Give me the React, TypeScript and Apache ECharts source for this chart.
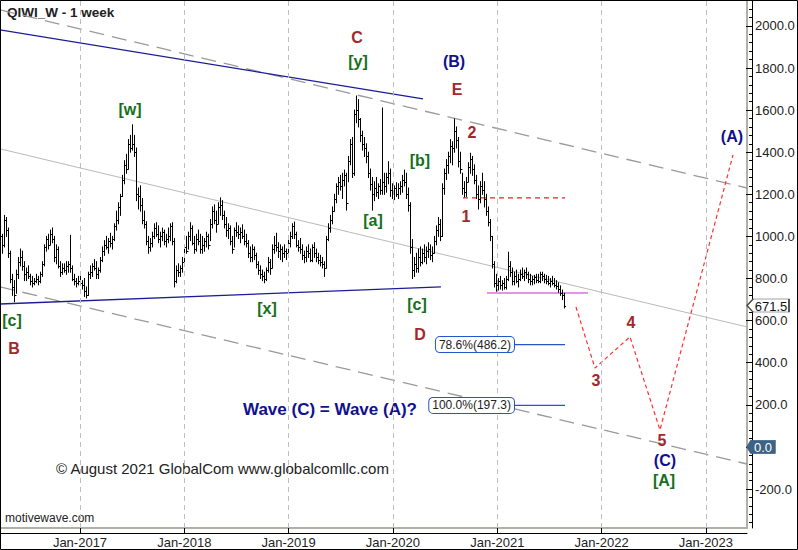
import React, { useEffect, useRef } from "react";
import * as echarts from "echarts";

const DAY = 86400000;
const yr = (v: number) => Date.UTC(2017, 0, 1) + (v - 2017) * 365.25 * DAY;
const FONT = '"Liberation Sans", Arial, Helvetica, sans-serif';

// axis ranges
const X_MIN_YR = 2016.2334;
const X_MAX_YR = 2023.392;
const Y_MIN = -385;
const Y_MAX = 2123;

// tick labels
const YEAR_LABELS = [2017, 2018, 2019, 2020, 2021, 2022, 2023];
const PRICE_LABELS = [-200, 0, 200, 400, 600, 800, 1000, 1200, 1400, 1600, 1800, 2000];

// weekly OHLC bars (open = previous close)
const FIRST_WEEK = Date.UTC(2016, 3, 4);
const FIRST_OPEN = 1000;
const BAR_HIGH = [
  1010, 1100, 1090, 1040, 930, 820, 790, 840, 900, 940, 930, 880, 850, 860, 820, 810, 800, 820, 810, 830,
  880, 960, 1000, 1010, 1030, 1040, 1000, 960, 950, 880, 870, 870, 880, 880, 1005, 860, 820, 800, 810, 810,
  790, 800, 760, 830, 860, 870, 890, 880, 850, 900, 950, 980, 1000, 990, 1015, 1000, 1060, 1120, 1160, 1200,
  1290, 1360, 1390, 1460, 1480, 1530, 1480, 1420, 1230, 1240, 1180, 1120, 1070, 1000, 990, 1020, 1060, 1065, 1050, 1020,
  1040, 1030, 1010, 1040, 1060, 1065, 990, 860, 870, 860, 900, 960, 1000, 1020, 1065, 1050, 1000, 1010, 1030, 1010,
  1000, 990, 1020, 1010, 1080, 1140, 1150, 1120, 1160, 1183, 1170, 1120, 1090, 1060, 1050, 1000, 1040, 1065, 1050, 1040,
  1055, 1030, 1010, 980, 950, 960, 950, 920, 880, 860, 840, 830, 850, 900, 890, 960, 1000, 1015, 970, 960,
  950, 960, 940, 990, 1020, 1060, 1068, 1020, 980, 990, 960, 930, 950, 960, 940, 960, 970, 940, 920, 910,
  900, 880, 1000, 1060, 1100, 1140, 1200, 1250, 1280, 1290, 1300, 1315, 1300, 1380, 1460, 1470, 1600, 1667, 1650, 1560,
  1500, 1470, 1440, 1400, 1320, 1280, 1260, 1280, 1250, 1270, 1610, 1300, 1300, 1355, 1320, 1250, 1240, 1255, 1250, 1260,
  1290, 1315, 1300, 1230, 1160, 985, 900, 920, 940, 950, 940, 960, 950, 970, 960, 950, 1000, 1050, 1090, 1080,
  1250, 1320, 1365, 1400, 1460, 1450, 1558, 1520, 1470, 1400, 1300, 1260, 1280, 1350, 1395, 1380, 1340, 1290, 1240, 1260,
  1300, 1260, 1200, 1140, 1080, 1000, 880, 820, 800, 810, 790, 800, 810, 925, 880, 850, 830, 840, 820, 840,
  850, 840, 850, 830, 820, 810, 815, 820, 820, 830, 830, 820, 815, 810, 800, 810, 800, 790, 780, 765,
  745, 730,
];
const BAR_LOW = [
  920, 950, 1000, 900, 780, 720, 690, 730, 800, 860, 840, 790, 790, 800, 770, 760, 770, 780, 770, 780,
  810, 860, 930, 940, 960, 970, 880, 870, 850, 810, 820, 830, 820, 830, 830, 790, 770, 760, 770, 770,
  750, 715, 708, 720, 800, 810, 840, 800, 800, 830, 880, 910, 940, 920, 950, 940, 980, 1030, 1060, 1100,
  1190, 1250, 1300, 1320, 1400, 1410, 1380, 1170, 1130, 1120, 1060, 1040, 960, 920, 930, 950, 990, 1000, 970, 950,
  980, 960, 950, 970, 980, 960, 760, 780, 810, 810, 830, 870, 920, 940, 980, 960, 920, 930, 960, 920,
  920, 930, 950, 940, 980, 1040, 1060, 1020, 1060, 1100, 1080, 1040, 1000, 990, 960, 920, 950, 1000, 990, 970,
  990, 960, 950, 900, 880, 880, 890, 850, 820, 800, 790, 780, 790, 830, 820, 850, 920, 930, 900, 890,
  880, 900, 890, 910, 950, 990, 990, 950, 930, 920, 890, 875, 880, 900, 880, 880, 900, 880, 870, 860,
  850, 810, 850, 980, 1020, 1060, 1120, 1160, 1200, 1220, 1180, 1240, 1125, 1260, 1340, 1280, 1290, 1540, 1520, 1450,
  1410, 1380, 1350, 1280, 1220, 1125, 1170, 1190, 1180, 1200, 1200, 1200, 1210, 1250, 1190, 1180, 1175, 1190, 1180, 1200,
  1210, 1240, 1180, 1120, 920, 800, 810, 830, 830, 860, 870, 880, 870, 900, 890, 880, 920, 960, 1000, 980,
  1000, 1200, 1270, 1300, 1350, 1340, 1400, 1420, 1330, 1300, 1200, 1188, 1190, 1260, 1300, 1290, 1250, 1180, 1130, 1160,
  1200, 1140, 1100, 1050, 980, 850, 760, 740, 745, 750, 745, 750, 750, 790, 810, 770, 770, 780, 760, 790,
  800, 790, 800, 780, 770, 770, 775, 780, 780, 780, 790, 780, 775, 770, 760, 770, 760, 750, 735, 720,
  700, 660,
];
const BAR_CLOSE = [
  960, 1080, 1030, 920, 800, 760, 720, 820, 880, 900, 860, 820, 830, 810, 790, 780, 790, 800, 790, 820,
  870, 950, 990, 960, 1010, 990, 900, 940, 860, 830, 850, 840, 860, 870, 850, 800, 790, 780, 790, 780,
  770, 740, 720, 820, 830, 860, 850, 820, 840, 890, 930, 960, 950, 980, 970, 990, 1050, 1080, 1140, 1190,
  1270, 1340, 1320, 1440, 1420, 1440, 1400, 1200, 1190, 1150, 1080, 1060, 980, 950, 970, 1000, 1040, 1010, 990, 1000,
  1020, 980, 990, 1000, 1050, 980, 790, 840, 830, 850, 880, 950, 930, 1000, 1040, 970, 940, 990, 980, 940,
  960, 980, 1000, 960, 1060, 1120, 1080, 1060, 1140, 1150, 1100, 1060, 1030, 1040, 980, 940, 1030, 1020, 1010, 1020,
  1000, 980, 970, 920, 900, 940, 910, 870, 840, 820, 810, 800, 840, 880, 850, 940, 960, 950, 930, 940,
  920, 930, 920, 970, 1000, 1050, 1010, 960, 950, 940, 910, 900, 930, 920, 890, 950, 920, 900, 890, 880,
  870, 850, 990, 1040, 1080, 1120, 1180, 1240, 1260, 1240, 1270, 1290, 1160, 1360, 1440, 1300, 1580, 1600, 1560, 1480,
  1440, 1420, 1380, 1300, 1250, 1200, 1230, 1210, 1240, 1220, 1260, 1240, 1280, 1300, 1220, 1210, 1230, 1200, 1230, 1240,
  1270, 1260, 1200, 1150, 950, 840, 870, 850, 900, 880, 920, 900, 930, 940, 910, 920, 980, 1030, 1060, 1000,
  1230, 1300, 1340, 1380, 1430, 1420, 1500, 1460, 1360, 1320, 1230, 1210, 1260, 1330, 1370, 1320, 1270, 1200, 1180, 1240,
  1220, 1180, 1120, 1070, 1000, 870, 780, 770, 790, 770, 780, 760, 800, 860, 830, 790, 810, 790, 800, 820,
  810, 830, 820, 800, 790, 800, 805, 795, 790, 820, 810, 800, 790, 780, 790, 780, 770, 765, 750, 730,
  720, 671.5,
];

// channel and trend lines [decimal year, price]
const TOP_CHANNEL = [[X_MIN_YR, 2076], [X_MAX_YR, 1230]];
const MID_CHANNEL = [[X_MIN_YR, 1416], [X_MAX_YR, 570]];
const LOW_CHANNEL = [[X_MIN_YR, 760], [X_MAX_YR, -81]];
const UPPER_TREND = [[X_MIN_YR, 1981], [2020.287, 1653]];
const LOWER_TREND = [[X_MIN_YR, 679], [2020.459, 760]];
const WAVE1_LEVEL = [[2020.67, 1183], [2021.648, 1183]];
const BASE_LEVEL = [[2020.9, 731], [2021.868, 731]];
const PROJECTION = [[2021.753, 665], [2021.935, 375], [2022.271, 523], [2022.558, 81], [2023.258, 1387]];

// fibonacci targets
const FIB_TEXT = ["78.6%(486.2)", "100.0%(197.3)"];
const FIB_PRICE = [486.2, 197.3];
const FIB_FROM = 2021.159;
const FIB_TO = 2021.648;

// wave labels
const WAVE_TEXT = ["[c]", "B", "[w]", "[x]", "C", "[y]", "[a]", "[b]", "[c]", "D", "(B)", "E", "2", "1", "3", "4", "5", "(C)", "[A]", "(A)"];
const WAVE_YEAR = [2016.348, 2016.368, 2017.479, 2018.792, 2019.655, 2019.664, 2019.808, 2020.258, 2020.23, 2020.258, 2020.584, 2020.613, 2020.757, 2020.699, 2021.945, 2022.28, 2022.577, 2022.606, 2022.597, 2023.248];
const WAVE_PRICE = [603, 470, 1601, 660, 1943, 1829, 1078, 1359, 675, 532, 1829, 1696, 1492, 1097, 314, 589, 29, -62, -157, 1473];
const WAVE_DEGREE = ["g", "r", "g", "g", "r", "g", "g", "g", "g", "r", "b", "r", "r", "r", "r", "r", "r", "b", "g", "b"];

const LAST_CLOSE = 671.5;
const ZERO_LEVEL = 0;

const DEGREE_COLOR: Record<string, string> = { g: "#15701a", r: "#a3282c", b: "#101090" };

function lineSeries(pts: number[][], color: string, width: number, type: any, z = 2) {
  return {
    type: "line",
    data: pts.map((p) => [yr(p[0]), p[1]]),
    symbol: "none",
    silent: true,
    z,
    lineStyle: { color, width, type },
  };
}

export default function App() {
  const ref = useRef<HTMLDivElement>(null);
  useEffect(() => {
    if (!ref.current) return;
    const chart = echarts.init(ref.current, null, { renderer: "svg" });

    const bars = BAR_CLOSE.map((c, i) => [
      FIRST_WEEK + i * 7 * DAY,
      i === 0 ? FIRST_OPEN : BAR_CLOSE[i - 1],
      BAR_HIGH[i],
      BAR_LOW[i],
      c,
    ]);

    const minor: number[] = [];
    for (let v = -360; v <= 2120; v += 40) if (v % 200 !== 0) minor.push(v);

    const yearTicks = YEAR_LABELS.map((y) => Date.UTC(y, 0, 1));

    const option: any = {
      animation: false,
      backgroundColor: "#fff",
      textStyle: { fontFamily: FONT },
      grid: {
        left: 0,
        top: 0,
        right: 51,
        bottom: 22,
        show: true,
        borderColor: "#b0b0a4",
        borderWidth: 2,
        backgroundColor: "transparent",
        containLabel: false,
        outerBoundsMode: "none",
      },
      xAxis: {
        type: "value",
        min: yr(X_MIN_YR),
        max: yr(X_MAX_YR),
        position: "bottom",
        offset: 5,
        axisLine: { show: true, onZero: false, lineStyle: { color: "#000", width: 1 } },
        axisTick: { show: true, inside: true, length: 5, customValues: yearTicks, lineStyle: { color: "#000" } },
        axisLabel: {
          show: true,
          customValues: yearTicks,
          formatter: (v: number) => "Jan-" + new Date(v).getUTCFullYear(),
          color: "#222",
          fontSize: 13,
          fontFamily: FONT,
          margin: 3,
        },
        splitLine: { show: false },
      },
      yAxis: [
        {
          type: "value",
          position: "right",
          min: Y_MIN,
          max: Y_MAX,
          offset: 5,
          axisLine: { show: true, onZero: false, lineStyle: { color: "#000", width: 1 } },
          axisTick: { show: true, inside: true, length: 6, customValues: PRICE_LABELS, lineStyle: { color: "#000" } },
          axisLabel: {
            show: true,
            customValues: PRICE_LABELS,
            formatter: (v: number) => v.toFixed(1),
            color: "#222",
            fontSize: 13,
            fontFamily: FONT,
            margin: 3,
          },
          splitLine: { show: false },
        },
        {
          type: "value",
          position: "right",
          min: Y_MIN,
          max: Y_MAX,
          offset: 5,
          axisLine: { show: false, onZero: false },
          axisTick: { show: true, inside: true, length: 3, customValues: minor, lineStyle: { color: "#000" } },
          axisLabel: { show: false },
          splitLine: { show: false },
        },
      ],
      series: [
        {
          ...lineSeries(MID_CHANNEL, "#b9b9b9", 1, "solid", 1),
          clip: false,
          markLine: {
            silent: true,
            symbol: ["none", "none"],
            label: { show: false },
            lineStyle: { color: "#bdbdbd", width: 1, type: [5, 4] },
            data: yearTicks.map((t) => ({ xAxis: t })),
          },
          markPoint: {
            silent: true,
            symbol: "path://M0,6 L6,0 L42,0 L42,12 L6,12 Z",
            symbolKeepAspect: false,
            data: [
              {
                coord: [yr(X_MAX_YR), LAST_CLOSE],
                symbolSize: [42, 13],
                symbolOffset: [21, 0],
                itemStyle: { color: "#fff", borderColor: "#444", borderWidth: 1 },
                label: { show: true, formatter: LAST_CLOSE.toFixed(1), color: "#111", fontSize: 13, fontFamily: FONT, offset: [3, 1] },
              },
              {
                coord: [yr(X_MAX_YR), ZERO_LEVEL],
                symbolSize: [28, 13],
                symbolOffset: [14, 0],
                itemStyle: { color: "#3d6284", borderColor: "#3d6284", borderWidth: 1 },
                label: { show: true, formatter: ZERO_LEVEL.toFixed(1), color: "#fff", fontSize: 13, fontFamily: FONT, offset: [2, 1] },
              },
            ],
          },
        },
        lineSeries(TOP_CHANNEL, "#9a9a9a", 1.3, [15, 8]),
        lineSeries(LOW_CHANNEL, "#9a9a9a", 1.3, [15, 8]),
        lineSeries(UPPER_TREND, "#1c1c96", 1.3, "solid"),
        lineSeries(LOWER_TREND, "#1c1c96", 1.3, "solid"),
        lineSeries(WAVE1_LEVEL, "#e52222", 1.3, [5, 4]),
        lineSeries(BASE_LEVEL, "#dd70dd", 1.5, "solid"),
        lineSeries(PROJECTION, "#ff3333", 1.2, [4, 3]),
        ...FIB_PRICE.map((p) =>
          lineSeries([[FIB_FROM, p], [FIB_TO, p]], "#2456c8", 1.2, "solid")
        ),
        {
          type: "custom",
          name: "QIWI_W",
          data: bars,
          z: 3,
          silent: true,
          encode: { x: 0, y: [1, 2, 3, 4] },
          renderItem: (params: any, api: any) => {
            const t = api.value(0);
            const o = api.coord([t, api.value(1)]);
            const h = api.coord([t, api.value(2)]);
            const l = api.coord([t, api.value(3)]);
            const c = api.coord([t, api.value(4)]);
            const x = Math.round(h[0]) + 0.5;
            const st = { stroke: "#000", lineWidth: 1 };
            return {
              type: "group",
              children: [
                { type: "line", shape: { x1: x, y1: h[1] - 0.5, x2: x, y2: l[1] + 0.5 }, style: st },
                { type: "line", shape: { x1: x - 1.5, y1: Math.round(o[1]) + 0.5, x2: x, y2: Math.round(o[1]) + 0.5 }, style: st },
                { type: "line", shape: { x1: x, y1: Math.round(c[1]) + 0.5, x2: x + 1.5, y2: Math.round(c[1]) + 0.5 }, style: st },
              ],
            };
          },
        },
        {
          type: "custom",
          name: "fib",
          data: FIB_PRICE.map((p) => [yr(FIB_FROM), p]),
          z: 5,
          silent: true,
          renderItem: (params: any, api: any) => {
            const pt = api.coord([api.value(0), api.value(1)]);
            return {
              type: "text",
              x: pt[0],
              y: pt[1],
              style: {
                text: FIB_TEXT[params.dataIndex],
                font: `12px ${FONT}`,
                fill: "#222",
                align: "right",
                verticalAlign: "middle",
                backgroundColor: "#fff",
                borderColor: "#2456c8",
                borderWidth: 1,
                borderRadius: 4,
                padding: [2, 3, 1, 3],
              },
            };
          },
        },
        {
          type: "custom",
          name: "waves",
          data: WAVE_YEAR.map((v, i) => [yr(v), WAVE_PRICE[i]]),
          z: 6,
          silent: true,
          renderItem: (params: any, api: any) => {
            const pt = api.coord([api.value(0), api.value(1)]);
            const i = params.dataIndex;
            return {
              type: "text",
              x: pt[0],
              y: pt[1],
              style: {
                text: WAVE_TEXT[i],
                font: `bold 16px ${FONT}`,
                fill: DEGREE_COLOR[WAVE_DEGREE[i]],
                align: "center",
                verticalAlign: "middle",
              },
            };
          },
        },
      ],
      graphic: [
        {
          type: "text",
          x: 7,
          y: 12,
          style: { text: "QIWI_W - 1 week", font: `bold 13.5px ${FONT}`, fill: "#222", verticalAlign: "middle" },
        },
        {
          type: "text",
          x: 243,
          y: 409,
          style: { text: "Wave (C) = Wave (A)?", font: `bold 17px ${FONT}`, fill: "#101090", verticalAlign: "middle" },
        },
        {
          type: "text",
          x: 56,
          y: 468,
          style: { text: "© August 2021 GlobalCom www.globalcomllc.com", font: `15px ${FONT}`, fill: "#222", verticalAlign: "middle" },
        },
        {
          type: "text",
          x: 5,
          y: 518,
          style: { text: "motivewave.com", font: `12px ${FONT}`, fill: "#222", verticalAlign: "middle" },
        },
        {
          type: "rect",
          silent: true,
          z: 100,
          shape: { x: 0.5, y: 0.5, width: 797, height: 549 },
          style: { fill: "none", stroke: "#000", lineWidth: 1 },
        },
      ],
    };

    chart.setOption(option);
    return () => chart.dispose();
  }, []);

  return (
    <div
      ref={ref}
      style={{ position: "absolute", left: 0, top: 0, width: 798, height: 550, background: "#fff" }}
    />
  );
}
